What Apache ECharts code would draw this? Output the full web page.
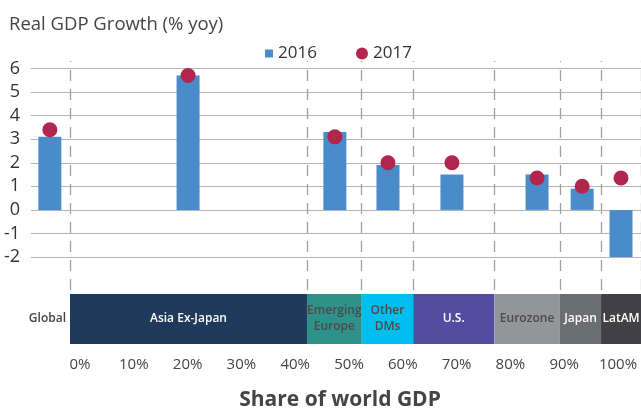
<html>
<head>
    <meta charset="utf-8">
    <script src="https://cdn.jsdelivr.net/npm/echarts@6/dist/echarts.min.js"></script>
    <title>Real GDP Growth</title>
    <style>
        html, body { margin: 0; padding: 0; background: #fff; }
        #main { width: 641px; height: 411px; }
    </style>
</head>
<body>
    <div id="main"></div>
    <script>
        // top panel: one bar + one dot per region
        const regions = ['Global', 'Asia Ex-Japan', 'Emerging\nEurope', 'Other\nDMs', 'U.S.', 'Eurozone', 'Japan', 'LatAM'];
        const barPos = [-3.5, 20.7, 46.4, 55.7, 66.9, 81.8, 89.7, 96.5];
        const growth2016 = [3.1, 5.7, 3.3, 1.9, 1.5, 1.5, 0.9, -2.15];
        const growth2017 = [3.4, 5.7, 3.1, 2.0, 2.0, 1.35, 1.0, 1.35];

        // bottom band: share of world GDP (%)
        const bandNames = ['Asia Ex-Japan', 'Emerging\nEurope', 'Other\nDMs', 'U.S.', 'Eurozone', 'Japan', 'LatAM'];
        const worldShare = [41.5, 9.6, 9.0, 14.2, 11.5, 7.2, 7.0];
        const bandColors = ['#1f3a5b', '#2f928a', '#00bff0', '#524ca0', '#939598', '#6d6e71', '#414042'];
        const bandText = ['#fff', '#4a4a4a', '#4a4a4a', '#fff', '#4a4a4a', '#fff', '#fff'];

        const FONT = 'Open Sans';

        const boundaries = [0];
        worldShare.forEach((s) => boundaries.push(+(boundaries[boundaries.length - 1] + s).toFixed(1)));

        const myChart = echarts.init(document.getElementById('main'));

        const bandSeries = bandNames.map((name, i) => ({
            name: name,
            type: 'bar',
            stack: 'band',
            xAxisIndex: 2,
            yAxisIndex: 2,
            barWidth: 50,
            silent: true,
            itemStyle: { color: bandColors[i] },
            label: {
                show: true,
                position: 'inside',
                formatter: name,
                color: bandText[i],
                fontFamily: FONT,
                fontSize: 12,
                fontWeight: 600,
                lineHeight: 16
            },
            data: [worldShare[i]]
        }));

        const option = {
            backgroundColor: '#fff',
            animation: false,
            title: [{
                text: 'Real GDP Growth (% yoy)',
                left: 4,
                top: 10,
                textStyle: { fontFamily: FONT, fontSize: 18.5, fontWeight: 'normal', color: '#444' }
            }, {
                text: 'Share of world GDP',
                left: 335,
                textAlign: 'center',
                top: 385,
                textStyle: { fontFamily: FONT, fontSize: 21, fontWeight: 'bold', color: '#444' }
            }],
            legend: [{
                data: [{ name: '2016', icon: 'rect' }],
                left: 260,
                top: 40,
                itemWidth: 8,
                itemHeight: 8,
                itemGap: 6,
                textStyle: { fontFamily: FONT, fontSize: 17, color: '#333' }
            }, {
                data: [{ name: '2017', icon: 'circle' }],
                left: 351,
                top: 40,
                itemWidth: 12,
                itemHeight: 12,
                textStyle: { fontFamily: FONT, fontSize: 17, color: '#333' }
            }],
            grid: [
                { left: 31, right: 0, top: 68.5, height: 188.5 },
                { left: 31, right: 0, top: 61, bottom: 121 },
                { left: 70, right: 0, top: 294, height: 50 },
                { left: 80, right: 23, top: 350, height: 1 }
            ],
            xAxis: [
                { gridIndex: 0, type: 'value', min: -6.8, max: 100, show: false },
                { gridIndex: 1, type: 'value', min: -6.8, max: 100, show: false },
                { gridIndex: 2, type: 'value', min: 0, max: 100, show: false },
                {
                    gridIndex: 3, type: 'value', min: 0, max: 100, interval: 10,
                    axisLine: { show: false }, axisTick: { show: false }, splitLine: { show: false },
                    axisLabel: {
                        formatter: '{value}%', fontFamily: FONT, fontSize: 15, color: '#444', margin: 6
                    }
                }
            ],
            yAxis: [
                {
                    gridIndex: 0, type: 'value', min: -2, max: 6, interval: 1,
                    axisLine: { show: false }, axisTick: { show: false },
                    splitLine: { lineStyle: { color: '#b4b4b4', width: 1.2 } },
                    axisLabel: { fontFamily: FONT, fontSize: 18, color: '#333', margin: 11 }
                },
                { gridIndex: 1, type: 'value', min: 0, max: 1, show: false },
                {
                    gridIndex: 2, type: 'category', data: ['Global'],
                    axisLine: { show: false }, axisTick: { show: false },
                    axisLabel: { fontFamily: FONT, fontSize: 12, fontWeight: 600, color: '#444', margin: 4 }
                },
                { gridIndex: 3, type: 'value', show: false }
            ],
            series: [
                {
                    type: 'scatter',
                    xAxisIndex: 1,
                    yAxisIndex: 1,
                    symbolSize: 0,
                    silent: true,
                    z: 1,
                    data: [[0, 0]],
                    markLine: {
                        silent: true,
                        symbol: 'none',
                        label: { show: false },
                        lineStyle: { color: '#a0a0a0', width: 1.3, type: [11, 8] },
                        data: boundaries.map((b) => ({ xAxis: b }))
                    }
                },
                {
                    name: '2016',
                    type: 'bar',
                    xAxisIndex: 0,
                    yAxisIndex: 0,
                    barWidth: 23,
                    z: 3,
                    itemStyle: { color: '#4a8cc9' },
                    data: barPos.map((x, i) => [x, growth2016[i]])
                },
                {
                    name: '2017',
                    type: 'scatter',
                    xAxisIndex: 0,
                    yAxisIndex: 0,
                    symbolSize: 15,
                    z: 4,
                    itemStyle: { color: '#b1264d', opacity: 1 },
                    data: barPos.map((x, i) => [x, growth2017[i]])
                }
            ].concat(bandSeries)
        };

        myChart.setOption(option);
    </script>
</body>
</html>
